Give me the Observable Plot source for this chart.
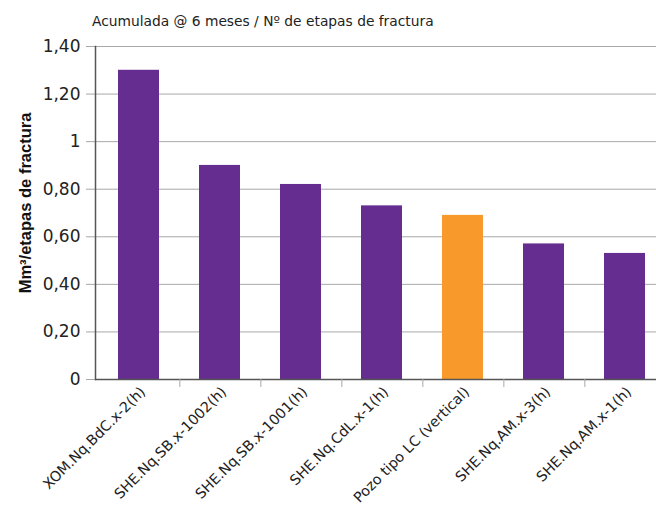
<!DOCTYPE html>
<html>
<head>
<meta charset="utf-8">
<script src="https://cdn.jsdelivr.net/npm/d3@7"></script>
<script src="https://cdn.jsdelivr.net/npm/@observablehq/plot@0.6"></script>
<style>
  body { margin: 0; background: #fff; font-family: "DejaVu Sans", sans-serif; }
  #title { height: 30px; box-sizing: border-box; padding: 13px 0 0 92px; font-size: 13.8px; line-height: 17px; color: #222; white-space: nowrap; }
</style>
</head>
<body>
<div id="title">Acumulada @ 6 meses / Nº de etapas de fractura</div>
<div id="chart"></div>
<script>
const categories = [
  "XOM.Nq.BdC.x-2(h)",
  "SHE.Nq.SB.x-1002(h)",
  "SHE.Nq.SB.x-1001(h)",
  "SHE.Nq.CdL.x-1(h)",
  "Pozo tipo LC (vertical)",
  "SHE.Nq.AM.x-3(h)",
  "SHE.Nq.AM.x-1(h)"
];
const values = [1.30, 0.90, 0.82, 0.73, 0.69, 0.57, 0.53];
const groups = ["pozo", "pozo", "pozo", "pozo", "tipo", "pozo", "pozo"];
const yTicks = [0, 0.2, 0.4, 0.6, 0.8, 1.0, 1.2, 1.4];
const yLabel = "Mm³/etapas de fractura";

const data = categories.map((c, i) => ({cat: c, value: values[i], group: groups[i]}));
const fmt = d => d === 0 ? "0" : d === 1 ? "1" : d.toFixed(2).replace(".", ",");

const xRange = [96, 668];
const step = (xRange[1] - xRange[0]) / categories.length;

const chart = Plot.plot({
  width: 656,
  height: 476,
  marginTop: 16,
  marginBottom: 127,
  marginLeft: 95,
  marginRight: 0,
  style: {fontFamily: '"DejaVu Sans", sans-serif', color: "#222", background: "#fff"},
  x: {domain: categories, range: xRange, paddingInner: 0.49, paddingOuter: 0.245, axis: null},
  y: {domain: [0, 1.4], axis: null},
  color: {domain: ["pozo", "tipo"], range: ["#662d91", "#f89a2b"]},
  marks: [
    Plot.gridY(yTicks, {stroke: "#a8a8a8", strokeOpacity: 1}),
    Plot.axisY(yTicks, {tickSize: 9, tickPadding: 6, stroke: "#a8a8a8", fill: "#222", fontSize: 17, tickFormat: fmt, label: null}),
    Plot.barY(data, {x: "cat", y: "value", fill: "group"}),
    Plot.ruleY([0], {stroke: "#555", strokeWidth: 1.5}),
    Plot.frame({anchor: "left", stroke: "#555", strokeWidth: 1.5}),
    Plot.axisX(categories.slice(0, -1), {tickSize: 8, tickFormat: () => "", dx: step / 2, stroke: "#a8a8a8", label: null}),
    Plot.axisX(categories, {tickSize: 0, tickRotate: -45, tickPadding: 10, dx: 4, fontSize: 14.3, fill: "#222", label: null}),
    Plot.text([yLabel], {frameAnchor: "left", textAnchor: "middle", rotate: -90, dx: -70, dy: -10, fontSize: 16.5, fontWeight: "bold", fontFamily: '"Liberation Sans", Arial, sans-serif', fill: "#111", text: d => d})
  ]
});
document.getElementById("chart").appendChild(chart);
</script>
</body>
</html>
